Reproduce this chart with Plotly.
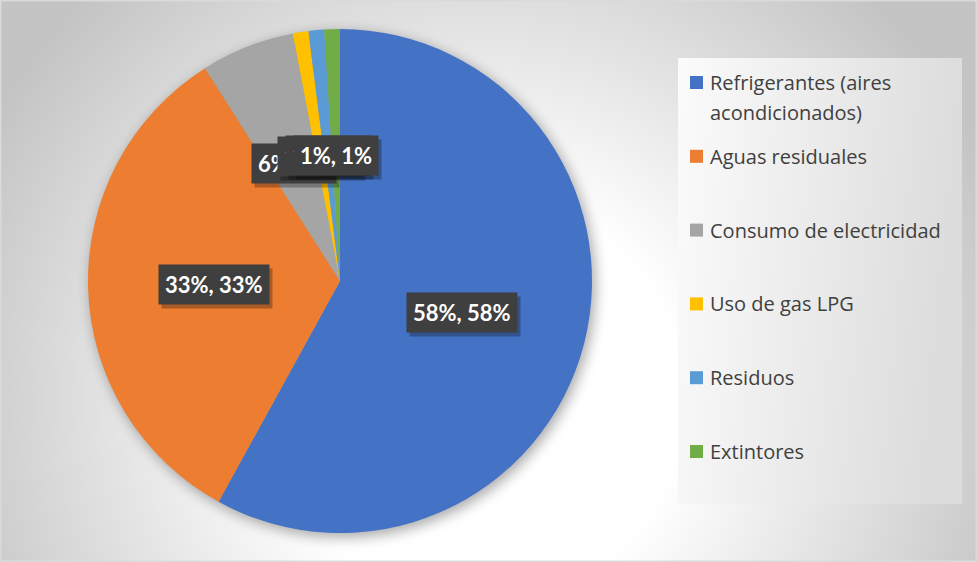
import base64
import numpy as np
import plotly.graph_objects as go

# ---------------- data ----------------
categories = [
    "Refrigerantes (aires acondicionados)",
    "Aguas residuales",
    "Consumo de electricidad",
    "Uso de gas LPG",
    "Residuos",
    "Extintores",
]
legend_lines = [
    ["Refrigerantes (aires", "acondicionados)"],
    ["Aguas residuales"],
    ["Consumo de electricidad"],
    ["Uso de gas LPG"],
    ["Residuos"],
    ["Extintores"],
]
values = [58, 33, 6, 1, 1, 1]
colors = ["#4472C4", "#ED7D31", "#A5A5A5", "#FFC000", "#5B9BD5", "#70AD47"]

# ---------------- layout constants ----------------
W, H = 977, 562
CX, CY, R = 340, 281, 252


def px_x(x):
    return x / W


def px_y(y):
    return 1 - y / H


# background (gradient, legend panel, soft pie shadow) as an SVG image
svg = f"""<svg xmlns='http://www.w3.org/2000/svg' width='{W}' height='{H}' viewBox='0 0 {W} {H}'>
<defs>
<radialGradient id='bg' gradientUnits='userSpaceOnUse' cx='480' cy='400' r='560'>
<stop offset='0' stop-color='#ffffff'/>
<stop offset='0.36' stop-color='#ffffff'/>
<stop offset='1' stop-color='#c4c4c4'/>
</radialGradient>
<linearGradient id='lg' x1='0' y1='0' x2='1' y2='0.15'>
<stop offset='0' stop-color='#fbfbfb'/>
<stop offset='1' stop-color='#dcdcdc'/>
</linearGradient>
<filter id='blur' x='-20%' y='-20%' width='140%' height='140%'><feGaussianBlur stdDeviation='7'/></filter>
</defs>
<rect width='{W}' height='{H}' fill='url(#bg)'/>
<rect x='678' y='58' width='284' height='446' fill='url(#lg)'/>
<circle cx='{CX + 3}' cy='{CY + 4}' r='{R}' fill='#000' opacity='0.35' filter='url(#blur)'/>
<rect x='0.75' y='0.75' width='{W - 1.5}' height='{H - 1.5}' fill='none' stroke='#dadada' stroke-width='1.5'/>
</svg>"""
bg_uri = "data:image/svg+xml;base64," + base64.b64encode(svg.encode()).decode()

fig = go.Figure()
fig.add_trace(
    go.Pie(
        labels=categories,
        values=values,
        sort=False,
        direction="clockwise",
        rotation=0,
        marker=dict(colors=colors, line=dict(width=0)),
        textinfo="none",
        hoverinfo="label+percent",
        showlegend=False,
        domain=dict(
            x=[(CX - R) / W, (CX + R) / W],
            y=[1 - (CY + R) / H, 1 - (CY - R) / H],
        ),
    )
)

annotations = []
shapes = []

# data labels ("value%, percent%") in dark boxes, positioned from the data
vals = np.array(values, dtype=float)
total = vals.sum()
mid = (np.cumsum(vals) - vals / 2) / total
for v, m in zip(values, mid):
    th = 2 * np.pi * m
    lx = CX + 0.5 * R * np.sin(th)
    ly = CY - 0.5 * R * np.cos(th)
    txt = f"{v}%, {round(v / total * 100)}%"
    common = dict(
        x=px_x(lx), y=px_y(ly), xref="paper", yref="paper",
        showarrow=False, text=txt, borderpad=6,
        xanchor="center", yanchor="middle",
    )
    annotations.append(dict(
        **common, bgcolor="rgba(0,0,0,0.28)", xshift=3, yshift=-4,
        font=dict(family="Lato", size=22, color="rgba(0,0,0,0)", weight=700),
    ))
    annotations.append(dict(
        **common, bgcolor="#3f3f3f",
        font=dict(family="Lato", size=22, color="#ffffff", weight=700),
    ))

# legend
for i, (lines, col) in enumerate(zip(legend_lines, colors)):
    yc = 82.5 + 73.8 * i
    shapes.append(dict(
        type="rect", xref="paper", yref="paper",
        x0=px_x(690), x1=px_x(703), y0=px_y(yc - 6.5), y1=px_y(yc + 6.5),
        fillcolor=col, line=dict(width=0),
    ))
    for j, line in enumerate(lines):
        annotations.append(dict(
            x=px_x(708), y=px_y(yc + 30 * j), xref="paper", yref="paper",
            text=line, showarrow=False, xanchor="left", yanchor="middle",
            font=dict(family="Open Sans", size=20, color="#404040"),
        ))

fig.update_layout(
    width=W,
    height=H,
    margin=dict(l=0, r=0, t=0, b=0),
    paper_bgcolor="#e0e0e0",
    plot_bgcolor="rgba(0,0,0,0)",
    images=[dict(
        source=bg_uri, xref="paper", yref="paper", x=0, y=1,
        sizex=1, sizey=1, sizing="stretch", xanchor="left", yanchor="top",
        layer="below",
    )],
    annotations=annotations,
    shapes=shapes,
    showlegend=False,
)

fig.write_html("out.html")
